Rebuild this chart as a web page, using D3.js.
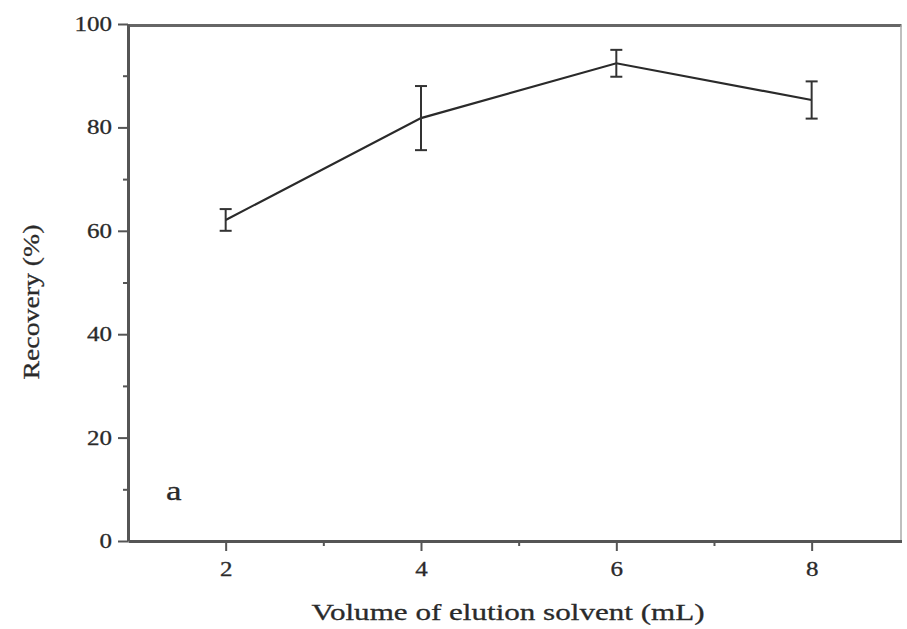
<!DOCTYPE html>
<html>
<head>
<meta charset="utf-8">
<script src="https://cdn.jsdelivr.net/npm/d3@7"></script>
<style>
  html, body { margin: 0; padding: 0; background: #fff; }
  svg text { font-family: "Liberation Serif", "Times New Roman", serif; fill: #2a2a2a; stroke: #2a2a2a; stroke-width: 0.3; }
</style>
</head>
<body>
<div id="chart"></div>
<script>
// data
const volumes = [2, 4, 6, 8];
const recovery = [62.1, 81.8, 92.4, 85.3];
const recoveryErr = [2.1, 6.2, 2.6, 3.6];
const xTicks = [2, 4, 6, 8];
const xMinorTicks = [3, 5, 7];
const yTicks = [0, 20, 40, 60, 80, 100];
const yMinorTicks = [10, 30, 50, 70, 90];

const points = volumes.map((v, i) => ({ x: v, y: recovery[i], e: recoveryErr[i] }));

//size
const width = 907, height = 629;
const margin = { top: 24, right: 5.5, bottom: 88, left: 128 };
const axisColor = "#555";
const stretch = 1.25; // picture text is wider than tall

const svg = d3.select("#chart").append("svg")
  .attr("width", width)
  .attr("height", height);

//scales
const x = d3.scaleLinear().domain([1, 8.92]).range([margin.left, width - margin.right]);
const y = d3.scaleLinear().domain([0, 100]).range([height - margin.bottom, margin.top]);

//frame (top + right)
svg.append("line")
  .attr("x1", x.range()[0]).attr("x2", x.range()[1])
  .attr("y1", 25.5).attr("y2", 25.5)
  .attr("stroke", "#666").attr("stroke-width", 3);
svg.append("line")
  .attr("x1", x.range()[1] - 0.5).attr("x2", x.range()[1] - 0.5)
  .attr("y1", 25.5).attr("y2", y(0))
  .attr("stroke", "#aaa").attr("stroke-width", 1.5);

//minor ticks
svg.append("g")
  .attr("transform", `translate(0,${y(0)})`)
  .call(d3.axisBottom(x).tickValues(xMinorTicks).tickSize(5).tickFormat(""))
  .call((g) => g.select(".domain").remove())
  .call((g) => g.selectAll("line").attr("stroke", axisColor).attr("stroke-width", 2));
svg.append("g")
  .attr("transform", `translate(${x(1)},0)`)
  .call(d3.axisLeft(y).tickValues(yMinorTicks).tickSize(5).tickFormat(""))
  .call((g) => g.select(".domain").remove())
  .call((g) => g.selectAll("line").attr("stroke", axisColor).attr("stroke-width", 2));

//x axis
const xAxis = svg.append("g")
  .attr("transform", `translate(0,${y(0)})`)
  .call(d3.axisBottom(x).tickValues(xTicks).tickSize(10).tickSizeOuter(0).tickPadding(8));
xAxis.select(".domain").attr("stroke", axisColor).attr("stroke-width", 3);
xAxis.selectAll(".tick line").attr("stroke", axisColor).attr("stroke-width", 2);
xAxis.selectAll(".tick text")
  .attr("font-size", 20)
  .attr("fill", null)
  .attr("y", 35).attr("dy", 0)
  .attr("transform", `scale(${stretch},1)`);

//y axis
const yAxis = svg.append("g")
  .attr("transform", `translate(${x(1)},0)`)
  .call(d3.axisLeft(y).tickValues(yTicks).tickSize(10).tickSizeOuter(0).tickPadding(5));
yAxis.select(".domain").attr("stroke", axisColor).attr("stroke-width", 3);
yAxis.selectAll(".tick line").attr("stroke", axisColor).attr("stroke-width", 2);
yAxis.selectAll(".tick text")
  .attr("font-size", 20)
  .attr("fill", null)
  .attr("x", -16 / stretch)
  .attr("transform", `scale(${stretch},1)`);

//line
svg.append("path")
  .datum(points)
  .attr("fill", "none")
  .attr("stroke", "#2a2a2a")
  .attr("stroke-width", 2.2)
  .attr("d", d3.line().x((d) => x(d.x)).y((d) => y(d.y)));

//error bars
const cap = 6;
const err = svg.append("g").attr("stroke", "#333").attr("stroke-width", 2)
  .selectAll("g").data(points).join("g");
err.append("line")
  .attr("x1", (d) => x(d.x)).attr("x2", (d) => x(d.x))
  .attr("y1", (d) => y(d.y + d.e)).attr("y2", (d) => y(d.y - d.e));
err.append("line")
  .attr("x1", (d) => x(d.x) - cap).attr("x2", (d) => x(d.x) + cap)
  .attr("y1", (d) => y(d.y + d.e)).attr("y2", (d) => y(d.y + d.e));
err.append("line")
  .attr("x1", (d) => x(d.x) - cap).attr("x2", (d) => x(d.x) + cap)
  .attr("y1", (d) => y(d.y - d.e)).attr("y2", (d) => y(d.y - d.e));

//titles
svg.append("text")
  .attr("x", 508).attr("y", 620)
  .attr("text-anchor", "middle")
  .attr("font-size", 24)
  .attr("textLength", 393)
  .attr("lengthAdjust", "spacingAndGlyphs")
  .text("Volume of elution solvent (mL)");

svg.append("text")
  .attr("transform", "translate(39,302) rotate(-90)")
  .attr("text-anchor", "middle")
  .attr("font-size", 24)
  .attr("textLength", 155)
  .attr("lengthAdjust", "spacingAndGlyphs")
  .text("Recovery (%)");

//panel letter
svg.append("text")
  .attr("x", 166 / stretch).attr("y", 500)
  .attr("font-size", 28)
  .attr("transform", `scale(${stretch},1)`)
  .text("a");
</script>
</body>
</html>
